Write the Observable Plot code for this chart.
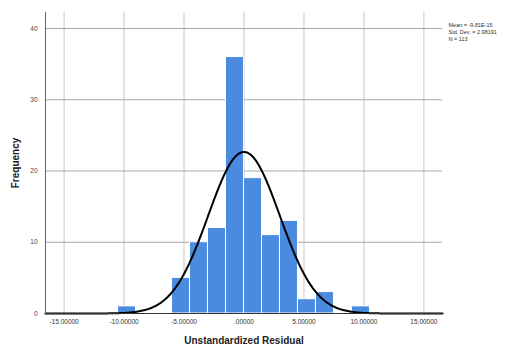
<!DOCTYPE html>
<html>
<head>
<meta charset="utf-8">
<script src="https://cdn.jsdelivr.net/npm/d3@7"></script>
<script src="https://cdn.jsdelivr.net/npm/@observablehq/plot@0.6"></script>
<style>
  html, body { margin: 0; padding: 0; background: #fff; }
  svg { display: block; }
</style>
</head>
<body>
<div id="chart"></div>
<script>
// Histogram bins (start of each 1.5-wide bin) and frequencies
const binStarts = [-10.5, -6, -4.5, -3, -1.5, 0, 1.5, 3, 4.5, 6, 9];
const counts    = [1, 5, 10, 12, 36, 19, 11, 13, 2, 3, 1];
const binWidth = 1.5;

// Axis ticks
const xTicks = [-15, -10, -5, 0, 5, 10, 15];
const xTickLabels = ["-15.00000", "-10.00000", "-5.00000", ".00000", "5.00000", "10.00000", "15.00000"];
const yTicks = [0, 10, 20, 30, 40];

// Summary statistics (shown in the legend, used for the fitted normal curve)
const statMean = -9.81e-15;
const statSD = 2.98191;
const statN = 113;
const legendLines = ["Mean = -9.81E-15", "Std. Dev. = 2.98191", "N = 113"];

const bars = binStarts.map((s, i) => ({x1: s, x2: s + binWidth, y: counts[i]}));

const xDomain = [-16.55, 16.55];
const curve = d3.range(xDomain[0], xDomain[1] + 0.001, 0.1).map(x => ({
  x,
  y: statN * binWidth / (statSD * Math.sqrt(2 * Math.PI)) * Math.exp(-0.5 * ((x - statMean) / statSD) ** 2)
}));

const chart = Plot.plot({
  width: 512,
  height: 346,
  marginLeft: 45,
  marginRight: 70,
  marginTop: 12,
  marginBottom: 33,
  style: {fontFamily: "'Liberation Sans', Arial, sans-serif", background: "#fff"},
  x: {domain: xDomain},
  y: {domain: [0, 42.25]},
  marks: [
    Plot.gridX(xTicks, {stroke: "#c8c8c8", strokeOpacity: 1}),
    Plot.gridY(yTicks.slice(1), {stroke: "#a8a8a8", strokeOpacity: 1}),
    Plot.rectY(bars, {x1: "x1", x2: "x2", y: "y", fill: "#4a8be0", stroke: "#fff", strokeWidth: 1}),
    Plot.line(curve, {x: "x", y: "y", stroke: "#000", strokeWidth: 2}),
    Plot.ruleY([0], {stroke: "#333", strokeWidth: 1}),
    Plot.ruleX([xDomain[0]], {stroke: "#666", strokeWidth: 1}),
    Plot.axisX({
      ticks: xTicks,
      tickFormat: (d, i) => xTickLabels[i],
      tickSize: 0,
      tickPadding: 6,
      fontSize: 6.5,
      fill: "#333",
      label: "Unstandardized Residual",
      labelAnchor: "center",
      labelArrow: "none",
      labelOffset: 30
    }),
    Plot.axisY({
      ticks: yTicks,
      tickSize: 0,
      tickPadding: 8,
      fontSize: 6.5,
      fill: "#444",
      label: "Frequency",
      labelAnchor: "center",
      labelArrow: "none",
      labelOffset: 34
    }),
    Plot.text([legendLines.join("\n")], {
      frameAnchor: "top-right",
      textAnchor: "start",
      lineAnchor: "top",
      dx: 6,
      dy: 10,
      fontSize: 5.5,
      lineHeight: 1.25,
      fill: "#333"
    })
  ]
});

// Axis title styling
chart.querySelectorAll("[aria-label='x-axis label'] text, [aria-label='y-axis label'] text").forEach(t => {
  t.setAttribute("font-size", "10");
  t.setAttribute("font-weight", "bold");
  t.setAttribute("fill", "#222");
});

document.getElementById("chart").appendChild(chart);
</script>
</body>
</html>
